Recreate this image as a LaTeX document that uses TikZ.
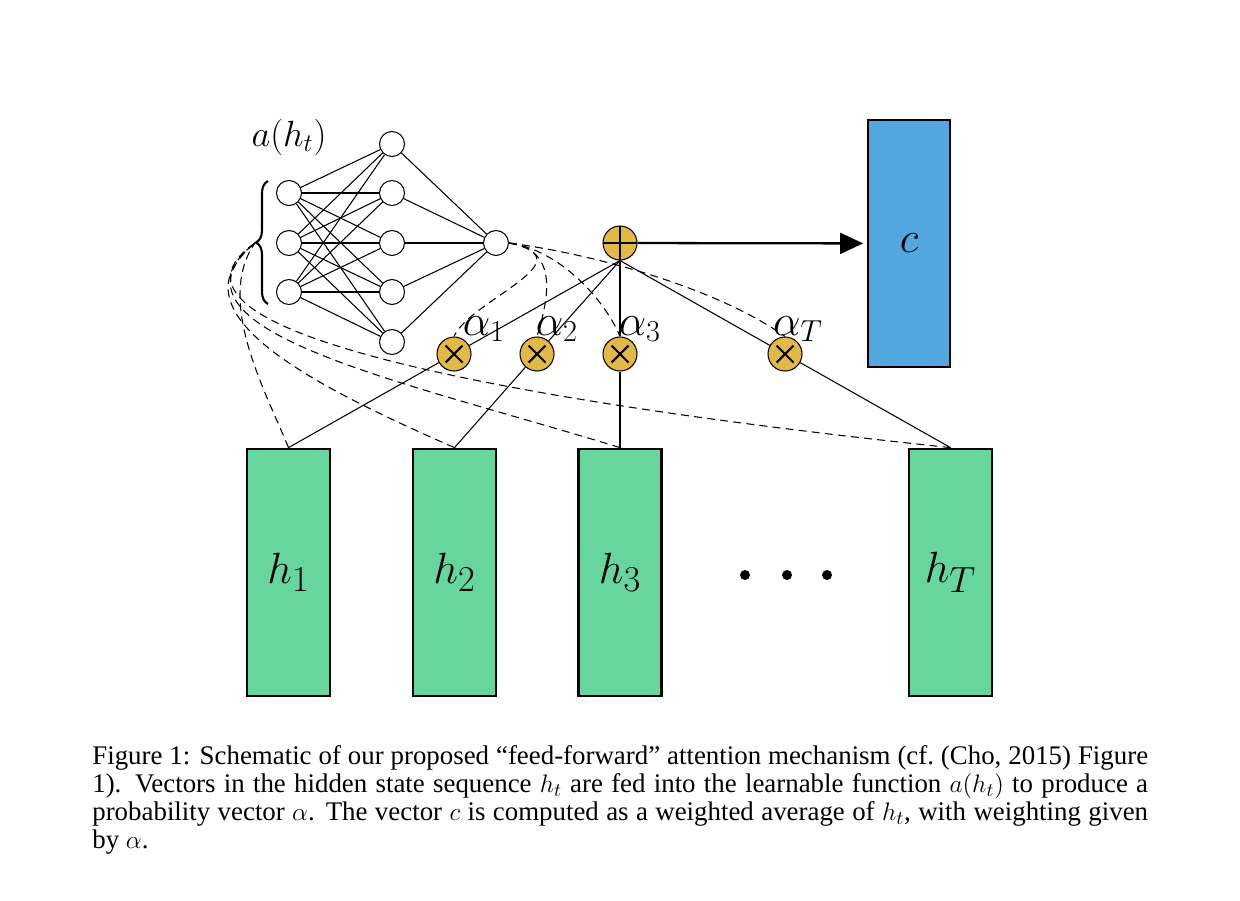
\documentclass[tikz,border=0pt]{standalone}
\usepackage{fontspec}
\newfontfamily\captionfont[Ligatures=TeX]{Liberation Serif}
\usetikzlibrary{arrows.meta, positioning, decorations.pathreplacing}
\definecolor{hgreen}{RGB}{102,214,158}
\definecolor{cblue}{RGB}{82,168,222}
\definecolor{gold}{RGB}{226,184,70}

\begin{document}
\begin{tikzpicture}[x=0.02cm, y=-0.02cm,
    neuron/.style={circle, draw=black, fill=white, line width=0.6pt, minimum size=0.5cm, inner sep=0pt},
    hbox/.style={rectangle, draw=black, line width=1.6pt, fill=hgreen, minimum width=1.66cm, minimum height=4.94cm, font=\fontsize{30}{36}\selectfont},
    cbox/.style={rectangle, draw=black, line width=1.6pt, fill=cblue, minimum width=1.64cm, minimum height=4.94cm, font=\fontsize{25}{30}\selectfont},
    mult/.style={circle, draw=black, fill=gold, line width=0.6pt, minimum size=0.68cm, inner sep=0pt,
        path picture={\draw[line width=1.2pt]
            ([xshift=-0.17cm, yshift=-0.17cm]path picture bounding box.center) -- ([xshift=0.17cm, yshift=0.17cm]path picture bounding box.center)
            ([xshift=-0.17cm, yshift=0.17cm]path picture bounding box.center) -- ([xshift=0.17cm, yshift=-0.17cm]path picture bounding box.center);}},
    addop/.style={circle, draw=black, fill=gold, line width=0.6pt, minimum size=0.68cm, inner sep=0pt,
        path picture={\draw[line width=1.3pt]
            (path picture bounding box.north) -- (path picture bounding box.south)
            (path picture bounding box.west) -- (path picture bounding box.east);}},
    weight/.style={inner sep=0pt, font=\fontsize{23}{27}\selectfont},
    link/.style={line width=0.6pt},
    attn/.style={line width=0.6pt, dash pattern=on 4.5pt off 3pt}]

    \useasboundingbox (0,0) rectangle (1240,900);

    % feed-forward net a(h_t)
    \foreach \y [count=\i] in {193,243,292}
        \node[neuron] (in\i) at (289,\y) {};
    \foreach \y [count=\i] in {144,193,243,292,342}
        \node[neuron] (hid\i) at (392,\y) {};
    \node[neuron] (out) at (496,243) {};
    \foreach \i in {1,2,3}
        \foreach \j in {1,...,5}
            \draw[link] (in\i) -- (hid\j);
    \foreach \j in {1,...,5}
        \draw[link] (hid\j) -- (out);
    \node (alabel) at (289,137) [font=\fontsize{21}{25}\selectfont] {$a(h_t)$};
    \draw[decorate, decoration={brace, amplitude=0.24cm}, line width=1.2pt] (268,304) -- (268,181);
    \coordinate (tip) at (255,243);

    % sum and weights
    \node[addop] (sum) at (620,243) {};
    \node[cbox] (c) at (909,243.5) {$c$};
    \node[mult] (m1) at (454,354) {};
    \node[mult] (m2) at (537,354) {};
    \node[mult] (m3) at (620,354) {};
    \node[mult] (mT) at (785,354) {};
    \node[weight] (a1) at (484,329) {$\alpha_1$};
    \node[weight] (a2) at (557,329) {$\alpha_2$};
    \node[weight] (a3) at (640,329) {$\alpha_3$};
    \node[weight] (aT) at (798,329) {$\alpha_T$};

    % hidden states
    \node[hbox] (h1) at (288.5,572.5) {$h_1$};
    \node[hbox] (h2) at (454.5,572.5) {$h_2$};
    \node[hbox] (h3) at (620,572.5) {$h_3$};
    \node[hbox] (hT) at (950.5,572.5) {$h_T$};
    \foreach \x in {745,787,827}
        \fill (\x,575) circle (0.1cm);

    % weighted sum
    \draw[link] (h1.north) -- (m1);
    \draw[link] (h2.north) -- (m2);
    \draw[link] (h3.north) -- (m3);
    \draw[link] (hT.north) -- (mT);
    \draw[link] (m1) -- (sum.south);
    \draw[link] (m2) -- (sum.south);
    \draw[link] (m3) -- (sum.south);
    \draw[link] (mT) -- (sum.south);
    \draw[-{Triangle[length=0.46cm, width=0.42cm]}, line width=1.3pt, shorten >=2pt] (sum) -- (c);

    % attention flow
    \draw[attn] (out.east) .. controls (590,260) and (470,300) .. (m1.north);
    \draw[attn] (out.east) .. controls (560,250) and (548,300) .. (m2.north);
    \draw[attn] (out.east) .. controls (560,250) and (605,300) .. (m3.north);
    \draw[attn] (out.east) .. controls (600,255) and (720,290) .. (mT.north);
    \draw[attn] (h1.north) .. controls (265,390) and (215,300) .. (tip);
    \draw[attn] (h2.north) .. controls (300,380) and (170,310) .. (tip);
    \draw[attn] (h3.north) .. controls (400,380) and (150,330) .. (tip);
    \draw[attn] (hT.north) .. controls (500,400) and (130,330) .. (tip);

    % caption
    \node (caption) [anchor=north west, text width=21.12cm, align=justify, inner sep=0pt,
        font=\captionfont\fontsize{15.3}{15.94}\selectfont] at (92,745)
        {Figure 1: Schematic of our proposed “feed-forward” attention mechanism (cf.\ (Cho, 2015) Figure\linebreak 1).  Vectors in the hidden state sequence $h_t$ are fed into the learnable function $a(h_t)$ to produce a\linebreak probability vector $\alpha$.  The vector $c$ is computed as a weighted average of $h_t$, with weighting given\linebreak by $\alpha$.};
\end{tikzpicture}
\end{document}
